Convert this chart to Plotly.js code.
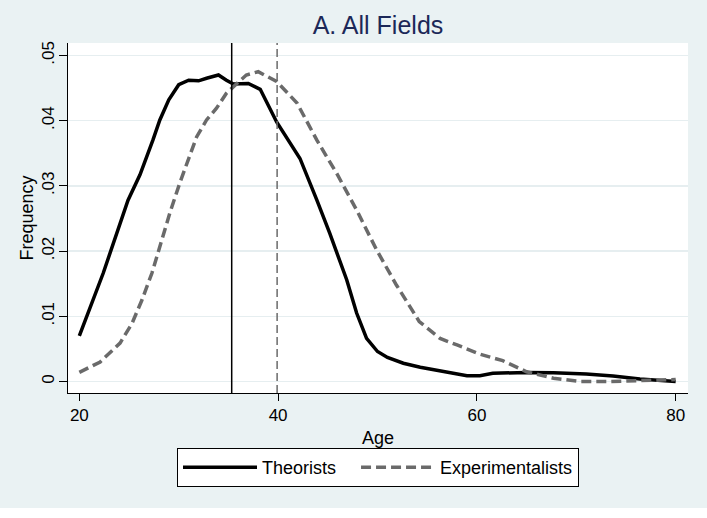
<!DOCTYPE html>
<html>
<head>
<meta charset="utf-8">
<script src="https://cdn.plot.ly/plotly-3.0.1.min.js"></script>
<style>
  html, body { margin: 0; padding: 0; background: #ffffff; }
  #chart { width: 707px; height: 508px; }
</style>
</head>
<body>
<div id="chart"></div>
<script>
// age densities
var theoristAges = [20, 22.4, 24.9, 26.1, 27.4, 28.1, 29, 30, 31, 32, 32.8, 34, 34.8, 35.5, 37, 38.2, 39.85, 42.2, 43.9, 45.2, 46.9, 47.9, 48.9, 50, 51, 52.6, 54.3, 56.3, 59, 60.3, 61.6, 65, 67.7, 71, 73.7, 76.4, 80];
var theoristFreq = [0.0070, 0.0166, 0.0278, 0.0317, 0.0370, 0.0401, 0.0432, 0.0455, 0.0462, 0.0461, 0.0465, 0.0470, 0.0462, 0.0456, 0.0457, 0.0448, 0.0398, 0.0342, 0.0278, 0.0227, 0.0156, 0.0105, 0.0066, 0.0046, 0.0037, 0.0028, 0.0022, 0.0016, 0.0009, 0.0009, 0.00125, 0.0014, 0.00135, 0.00115, 0.00085, 0.0004, 0.0000];

var experimentalAges = [20, 22.1, 24.1, 25.3, 26.3, 27.3, 28.3, 29.1, 30.1, 31, 31.8, 32.8, 33.8, 34.8, 35.8, 36.8, 38, 39.85, 41.9, 43.9, 45.9, 47.9, 49.9, 51.9, 54.2, 56.3, 58, 60.3, 62.6, 65, 67.7, 70.4, 73.4, 76.4, 80];
var experimentalFreq = [0.0014, 0.0030, 0.0059, 0.0089, 0.0125, 0.0166, 0.0217, 0.0258, 0.0304, 0.0340, 0.0375, 0.0401, 0.0419, 0.0442, 0.0456, 0.0470, 0.0475, 0.0460, 0.0427, 0.0370, 0.0319, 0.0263, 0.0202, 0.0148, 0.0092, 0.0066, 0.0056, 0.0042, 0.0032, 0.0015, 0.0005, 0.0000, 0.0000, 0.0001, 0.0003];

// mean ages (vertical reference lines)
var meanAges = [35.33, 39.9];

// tick labels
var xTickVals = [20, 40, 60, 80];
var yTickVals = [0, 0.01, 0.02, 0.03, 0.04, 0.05];
var yTickText = ["0", ".01", ".02", ".03", ".04", ".05"];

var font = "Liberation Sans, Arial, Helvetica, sans-serif";
var grey = "#6a6a6a";
// a few non-breaking spaces widen the gap between the two legend entries
var legendGap = "\u00a0\u00a0\u00a0";

var theoristTrace = {
  x: theoristAges,
  y: theoristFreq,
  type: "scatter",
  mode: "lines",
  line: { color: "#000000", width: 3.5 },
  name: "Theorists" + legendGap
};

var experimentalTrace = {
  x: experimentalAges,
  y: experimentalFreq,
  type: "scatter",
  mode: "lines",
  line: { color: grey, width: 3.5, dash: "10px,5px" },
  name: "Experimentalists"
};

// one vertical line per mean age
var shapes = [
  { type: "line", xref: "x", yref: "paper", x0: meanAges[0], x1: meanAges[0], y0: 0, y1: 1,
    line: { color: "#000000", width: 1.5 } },
  { type: "line", xref: "x", yref: "paper", x0: meanAges[1], x1: meanAges[1], y0: 0, y1: 1,
    line: { color: grey, width: 1.5, dash: "8px,4px" } }
];

var layout = {
  width: 707,
  height: 508,
  paper_bgcolor: "#eaf2f3",
  plot_bgcolor: "#ffffff",
  margin: { l: 68, r: 19, t: 43, b: 115 },
  font: { family: font, size: 17, color: "#000000" },
  title: {
    text: "A. All Fields",
    font: { family: font, size: 25, color: "#1c2858" },
    xref: "paper", x: 0.5, xanchor: "center",
    yref: "container", y: 1 - 25 / 508, yanchor: "middle"
  },
  xaxis: {
    range: [18.86, 81.24],
    tickvals: xTickVals,
    ticks: "outside", ticklen: 7, tickcolor: "#000000",
    showline: true, linecolor: "#000000", linewidth: 1,
    showgrid: false, zeroline: false,
    title: { text: "Age", font: { size: 18 }, standoff: 6 }
  },
  yaxis: {
    range: [-0.00176, 0.0519],
    tickvals: yTickVals,
    ticktext: yTickText,
    tickangle: -90,
    ticklabelstandoff: -2,
    ticks: "outside", ticklen: 8, tickcolor: "#000000",
    showline: true, linecolor: "#000000", linewidth: 1,
    showgrid: true, gridcolor: "#e6eef0", gridwidth: 1.5,
    zeroline: false,
    title: { text: "Frequency", font: { size: 18 }, standoff: 0 }
  },
  shapes: shapes,
  showlegend: true,
  legend: {
    orientation: "h",
    x: 0.5, xanchor: "center",
    y: -0.157, yanchor: "top",
    bgcolor: "#ffffff",
    bordercolor: "#000000", borderwidth: 1,
    font: { family: font, size: 18 },
    itemwidth: 74
  }
};

Plotly.newPlot("chart", [theoristTrace, experimentalTrace], layout, { displayModeBar: false, staticPlot: true });
</script>
</body>
</html>
